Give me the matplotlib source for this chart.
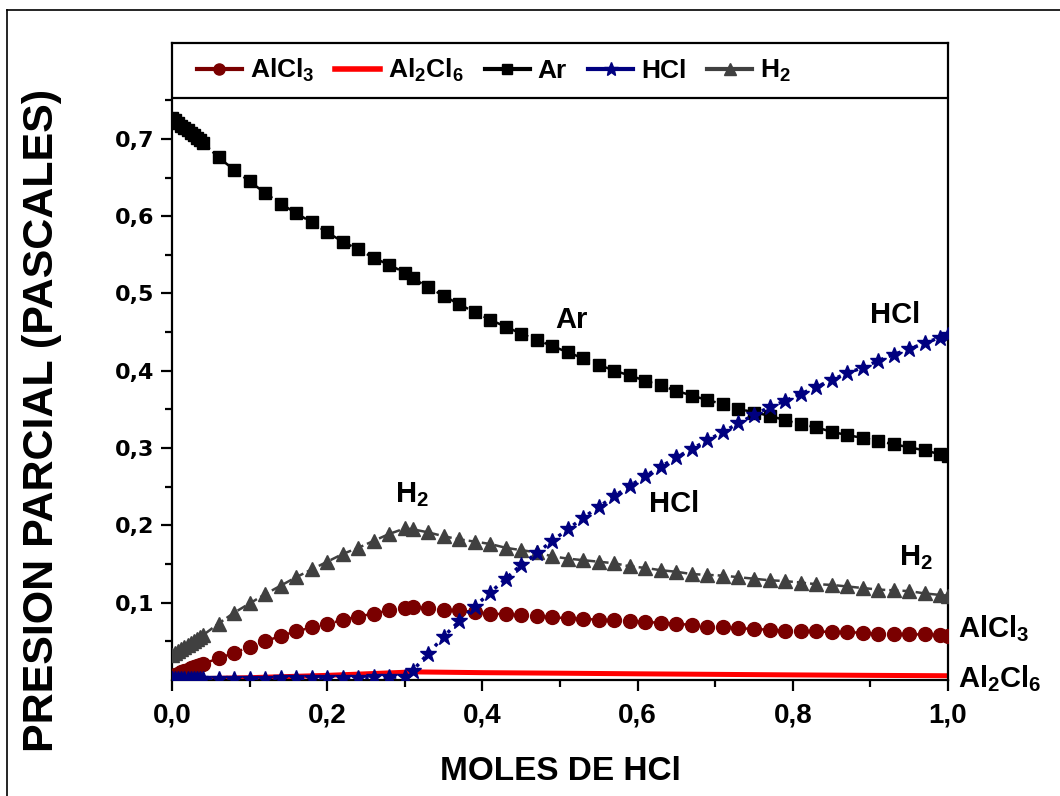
import matplotlib
matplotlib.use("Agg")
import matplotlib.pyplot as plt
from matplotlib.lines import Line2D

plt.rcParams['font.family'] = ['Liberation Sans', 'DejaVu Sans']
plt.rcParams['font.weight'] = 'bold'
plt.rcParams['mathtext.default'] = 'regular'

NARROW = ['Liberation Sans Narrow', 'Liberation Sans']

# moles of HCl (x grid of the simulation)
moles = [0.0, 0.004, 0.008, 0.012, 0.016, 0.02, 0.024, 0.028, 0.032, 0.036, 0.04,
         0.06, 0.08, 0.10, 0.12, 0.14, 0.16, 0.18, 0.20, 0.22, 0.24, 0.26, 0.28, 0.30,
         0.31, 0.33, 0.35, 0.37, 0.39, 0.41, 0.43, 0.45, 0.47, 0.49,
         0.51, 0.53, 0.55, 0.57, 0.59, 0.61, 0.63, 0.65, 0.67, 0.69,
         0.71, 0.73, 0.75, 0.77, 0.79, 0.81, 0.83, 0.85, 0.87, 0.89,
         0.91, 0.93, 0.95, 0.97, 0.99, 1.0]

p_ar = [0.727, 0.724, 0.721, 0.717, 0.714, 0.711, 0.708, 0.705, 0.701, 0.698, 0.695,
        0.676, 0.660, 0.645, 0.630, 0.616, 0.604, 0.592, 0.579, 0.567, 0.557, 0.546, 0.537, 0.527,
        0.520, 0.508, 0.497, 0.486, 0.476, 0.466, 0.457, 0.448, 0.440, 0.432,
        0.424, 0.416, 0.408, 0.400, 0.394, 0.387, 0.381, 0.374, 0.368, 0.362,
        0.357, 0.351, 0.346, 0.342, 0.336, 0.331, 0.327, 0.321, 0.317, 0.313,
        0.309, 0.305, 0.301, 0.297, 0.292, 0.290]

p_hcl = [0.001, 0.001, 0.001, 0.001, 0.001, 0.001, 0.001, 0.001, 0.001, 0.001, 0.001,
         0.001, 0.001, 0.0015, 0.0015, 0.002, 0.002, 0.0025, 0.0025, 0.003, 0.003, 0.0035, 0.0035, 0.004,
         0.012, 0.034, 0.056, 0.076, 0.095, 0.113, 0.131, 0.149, 0.164, 0.180,
         0.195, 0.210, 0.224, 0.238, 0.251, 0.264, 0.276, 0.288, 0.299, 0.310,
         0.321, 0.332, 0.343, 0.353, 0.361, 0.370, 0.379, 0.388, 0.397, 0.404,
         0.413, 0.421, 0.428, 0.436, 0.443, 0.446]

p_h2 = [0.032, 0.035, 0.038, 0.040, 0.043, 0.045, 0.048, 0.051, 0.053, 0.056, 0.058,
        0.073, 0.087, 0.099, 0.111, 0.122, 0.133, 0.143, 0.153, 0.163, 0.171, 0.180, 0.189, 0.196,
        0.195, 0.191, 0.186, 0.182, 0.179, 0.176, 0.171, 0.168, 0.165, 0.160,
        0.157, 0.155, 0.153, 0.151, 0.147, 0.145, 0.142, 0.140, 0.137, 0.136,
        0.135, 0.133, 0.131, 0.129, 0.128, 0.126, 0.124, 0.123, 0.121, 0.119,
        0.117, 0.116, 0.115, 0.112, 0.110, 0.109]

p_alcl3 = [0.004, 0.006, 0.008, 0.010, 0.012, 0.013, 0.015, 0.017, 0.018, 0.020, 0.021,
           0.028, 0.035, 0.043, 0.050, 0.057, 0.063, 0.068, 0.072, 0.078, 0.082, 0.086, 0.090, 0.093,
           0.094, 0.093, 0.091, 0.090, 0.088, 0.086, 0.085, 0.084, 0.083, 0.081,
           0.080, 0.079, 0.078, 0.077, 0.076, 0.075, 0.074, 0.073, 0.071, 0.069,
           0.068, 0.067, 0.066, 0.065, 0.064, 0.064, 0.063, 0.062, 0.062, 0.061,
           0.060, 0.060, 0.059, 0.059, 0.058, 0.057]

# Al2Cl6 is drawn as a plain line, read at fewer points
moles_al2cl6 = [0.0, 0.05, 0.10, 0.15, 0.20, 0.25, 0.30, 0.31, 0.40, 0.50, 0.60, 0.70, 0.80, 0.90, 1.0]
p_al2cl6 = [0.0005, 0.002, 0.003, 0.0045, 0.006, 0.008, 0.010, 0.0105, 0.0095, 0.0088,
            0.008, 0.0073, 0.0066, 0.006, 0.0055]

xticks = [0.0, 0.2, 0.4, 0.6, 0.8, 1.0]
xtick_labels = ['0,0', '0,2', '0,4', '0,6', '0,8', '1,0']
yticks = [0.1, 0.2, 0.3, 0.4, 0.5, 0.6, 0.7]
ytick_labels = ['0,1', '0,2', '0,3', '0,4', '0,5', '0,6', '0,7']

c_alcl3 = '#7a0000'
c_al2cl6 = '#ff0000'
c_ar = '#000000'
c_hcl = '#000080'
c_h2 = '#404040'

fig = plt.figure(figsize=(10.6, 7.96), dpi=100)
ax = fig.add_axes([172 / 1060, 116 / 796, 776 / 1060, 637 / 796])

ax.plot(moles_al2cl6, p_al2cl6, color=c_al2cl6, lw=3.6, zorder=2)
ax.plot(moles, p_alcl3, color=c_alcl3, ls='--', lw=1.8, marker='o', ms=10,
        mec=c_alcl3, zorder=3)
ax.plot(moles, p_h2, color=c_h2, ls='--', lw=1.8, marker='^', ms=10.5,
        mec=c_h2, zorder=3)
ax.plot(moles, p_ar, color=c_ar, ls='--', lw=1.8, marker='s', ms=8,
        mec=c_ar, zorder=3)
ax.plot(moles, p_hcl, color=c_hcl, ls=':', lw=2.5, marker='*', ms=12,
        mec=c_hcl, zorder=4)

ax.set_xlim(0, 1.0)
ax.set_ylim(0, 0.824)

ax.set_xticks(xticks)
ax.set_xticklabels(xtick_labels, family=NARROW, fontsize=20, weight='bold')
ax.set_xticks([0.1, 0.3, 0.5, 0.7, 0.9], minor=True)
ax.set_yticks(yticks)
ax.set_yticklabels(ytick_labels, family='DejaVu Sans', fontsize=16, weight='bold')
ax.set_yticks([0.05, 0.15, 0.25, 0.35, 0.45, 0.55, 0.65, 0.75], minor=True)
ax.tick_params(which='major', direction='out', length=8, width=1.6)
ax.tick_params(which='minor', direction='out', length=5, width=1.6)
ax.tick_params(axis='x', pad=8)
ax.tick_params(axis='y', pad=5)
for s in ax.spines.values():
    s.set_linewidth(1.6)

ax.set_xlabel('MOLES DE HCl', family=NARROW, fontsize=24, weight='bold')
ax.xaxis.set_label_coords(0.5, -0.143)
ax.xaxis.label.set_va('center')
ax.set_ylabel('PRESION PARCIAL (PASCALES)', fontsize=31, weight='bold')
ax.yaxis.set_label_coords(-0.168, 0.408)
ax.yaxis.label.set_va('center')

# legend strip at the top of the axes
ax.axhline((680 - 98) / 773, color='black', lw=1.6, zorder=5)
handles = [
    Line2D([], [], color=c_alcl3, lw=3, marker='o', ms=8),
    Line2D([], [], color=c_al2cl6, lw=4),
    Line2D([], [], color=c_ar, lw=3, marker='s', ms=7),
    Line2D([], [], color=c_hcl, lw=3, marker='*', ms=10),
    Line2D([], [], color=c_h2, lw=3, marker='^', ms=8),
]
labels = ['AlCl$_3$', 'Al$_2$Cl$_6$', 'Ar', 'HCl', 'H$_2$']
ax.legend(handles, labels, loc='center left', bbox_to_anchor=(0.032, 0.957),
          ncol=5, frameon=False, handlelength=1.7, handletextpad=0.3,
          columnspacing=0.8, borderaxespad=0, borderpad=0,
          prop={'family': NARROW, 'size': 19, 'weight': 'bold'})

# curve labels
lab = dict(fontsize=21, weight='bold', va='baseline', ha='left')
ax.text(0.494, 0.455, 'Ar', **lab)
ax.text(0.900, 0.462, 'HCl', **lab)
ax.text(0.615, 0.217, 'HCl', **lab)
ax.text(0.287, 0.230, 'H$_2$', **lab)
ax.text(0.937, 0.149, 'H$_2$', **lab)
ax.text(1.013, 0.0556, 'AlCl$_3$', clip_on=False, **lab)
ax.text(1.013, -0.009, 'Al$_2$Cl$_6$', clip_on=False, **lab)

# outer frame of the figure
fig.add_artist(Line2D([7 / 1060, 7 / 1060], [0, 1 - 10 / 796], color='black', lw=1.2,
                      transform=fig.transFigure))
fig.add_artist(Line2D([7 / 1060, 1], [1 - 10 / 796, 1 - 10 / 796], color='black', lw=1.2,
                      transform=fig.transFigure))

fig.savefig('out.png', dpi=100)
